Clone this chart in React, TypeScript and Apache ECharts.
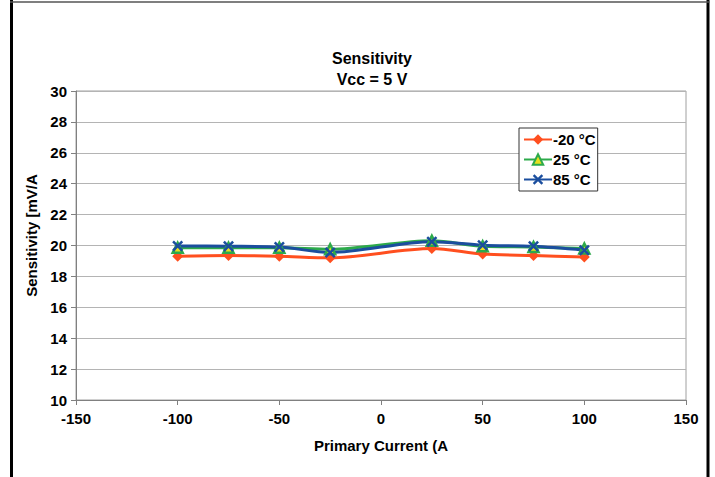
import React, { useEffect, useRef } from "react";
import * as echarts from "echarts";

const currents = [-100, -75, -50, -25, 25, 50, 75, 100];
const seriesNames = ["-20 °C", "25 °C", "85 °C"];
const sensM20 = [19.3, 19.35, 19.3, 19.2, 19.8, 19.45, 19.35, 19.25];
const sens25 = [19.85, 19.85, 19.85, 19.75, 20.3, 19.95, 19.9, 19.8];
const sens85 = [19.97, 19.95, 19.9, 19.55, 20.25, 20.02, 19.95, 19.7];
const xTicks = [-150, -100, -50, 0, 50, 100, 150];
const yTicks = [10, 12, 14, 16, 18, 20, 22, 24, 26, 28, 30];

const FONT = "'Liberation Sans', Arial, sans-serif";
const RED = "#FF4F1F";
const GREEN = "#2DAA4B";
const BLUE = "#1B4E9E";
const XSYM = "path://M0,1.6L1.6,0L5,3.4L8.4,0L10,1.6L6.6,5L10,8.4L8.4,10L5,6.6L1.6,10L0,8.4L3.4,5Z";

export default function App() {
  const ref = useRef<HTMLDivElement>(null);
  useEffect(() => {
    const chart = echarts.init(ref.current!, null, { renderer: "svg" });
    const mk = (vals: number[]) => currents.map((c, i) => [c, vals[i]]);
    chart.setOption({
      animation: false,
      backgroundColor: "#fff",
      title: {
        text: "Sensitivity\nVcc = 5 V",
        left: 367,
        textAlign: "center",
        top: 43,
        textStyle: { fontFamily: FONT, fontSize: 16, fontWeight: "bold", color: "#000", lineHeight: 21 },
      },
      legend: {
        orient: "vertical",
        left: 519,
        top: 128,
        padding: [4, 2, 4, 4],
        itemGap: 5,
        itemWidth: 28,
        itemHeight: 13,
        borderColor: "#333",
        borderWidth: 1,
        backgroundColor: "#fff",
        textStyle: { fontFamily: FONT, fontSize: 15, fontWeight: "bold", color: "#000", padding: [0, 0, 0, -4] },
        data: seriesNames,
      },
      grid: {
        left: 76,
        right: 29,
        top: 91,
        bottom: 77,
        show: true,
        borderColor: "#A0A0A0",
        borderWidth: 1,
      },
      xAxis: {
        type: "value",
        min: -150,
        max: 150,
        interval: 50,
        name: "Primary Current (A",
        nameLocation: "middle",
        nameGap: 38,
        nameTextStyle: { fontFamily: FONT, fontSize: 15, fontWeight: "bold", color: "#000" },
        axisLine: { show: true, onZero: false, lineStyle: { color: "#808080" } },
        axisTick: { show: true, length: 5, lineStyle: { color: "#808080" } },
        splitLine: { show: false },
        axisLabel: {
          fontFamily: FONT, fontSize: 15, fontWeight: "bold", color: "#000", margin: 11,
          customValues: xTicks,
        },
      },
      yAxis: {
        type: "value",
        min: 10,
        max: 30,
        interval: 2,
        name: "Sensitivity [mV/A",
        nameLocation: "middle",
        nameGap: 36,
        nameTextStyle: { fontFamily: FONT, fontSize: 15, fontWeight: "bold", color: "#000", padding: [0, 0, 0, 20] },
        axisLine: { show: true, onZero: false, lineStyle: { color: "#808080" } },
        axisTick: { show: true, length: 5, lineStyle: { color: "#808080" } },
        splitLine: { show: true, lineStyle: { color: "#B4B4B4" } },
        axisLabel: { fontFamily: FONT, fontSize: 15, fontWeight: "bold", color: "#000", margin: 9, customValues: yTicks },
      },
      series: [
        {
          name: seriesNames[0],
          type: "line",
          data: mk(sensM20),
          smooth: 0.3,
          symbol: "diamond",
          symbolSize: 11,
          lineStyle: { color: RED, width: 3 },
          itemStyle: { color: RED },
        },
        {
          name: seriesNames[1],
          type: "line",
          data: mk(sens25),
          smooth: 0.3,
          symbol: "triangle",
          symbolSize: 10,
          lineStyle: { color: GREEN, width: 3 },
          itemStyle: { color: "#E8E020", borderColor: GREEN, borderWidth: 2.5 },
        },
        {
          name: seriesNames[2],
          type: "line",
          data: mk(sens85),
          smooth: 0.3,
          symbol: XSYM,
          symbolSize: 11,
          lineStyle: { color: BLUE, width: 3 },
          itemStyle: { color: BLUE },
        },
      ],
      graphic: [
        { type: "line", shape: { x1: 11.5, y1: 0, x2: 11.5, y2: 477 }, style: { stroke: "#000", lineWidth: 3 } },
        { type: "line", shape: { x1: 708, y1: 0, x2: 708, y2: 477 }, style: { stroke: "#000", lineWidth: 3 } },
        { type: "line", shape: { x1: 10, y1: 2, x2: 709.5, y2: 2 }, style: { stroke: "#555", lineWidth: 1.5 } },
      ],
    });
    return () => chart.dispose();
  }, []);
  return <div ref={ref} style={{ position: "absolute", left: 0, top: 0, width: 715, height: 477 }} />;
}
